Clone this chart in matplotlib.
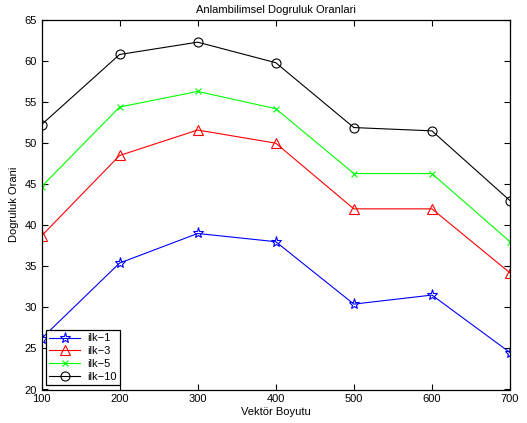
import matplotlib
matplotlib.use("Agg")
import matplotlib.pyplot as plt

x = [100, 200, 300, 400, 500, 600, 700]
ilk1 = [26.2, 35.4, 39.0, 38.0, 30.4, 31.5, 24.5]
ilk3 = [38.7, 48.5, 51.6, 50.0, 42.0, 42.0, 34.2]
ilk5 = [44.7, 54.4, 56.3, 54.2, 46.3, 46.3, 38.0]
ilk10 = [52.25, 60.8, 62.3, 59.8, 51.9, 51.5, 43.0]
labels = ["ilk\u22121", "ilk\u22123", "ilk\u22125", "ilk\u221210"]

plt.rcParams['font.family'] = ['Liberation Sans', 'DejaVu Sans']
plt.rcParams['font.size'] = 8

fig = plt.figure(figsize=(5.27, 4.23), dpi=100)
ax = fig.add_axes([41.5/527, 1 - 389.5/423, (510 - 41.5)/527, (389.5 - 20)/423])

lw = 0.8
ax.plot(x, ilk1, color='blue', lw=lw, marker='*', ms=8, mfc='none', mew=0.8, label=labels[0])
ax.plot(x, ilk3, color='red', lw=lw, marker='^', ms=7.5, mfc='none', mew=0.8, label=labels[1])
ax.plot(x, ilk5, color='#00ff00', lw=lw, marker='x', ms=5, mew=0.8, label=labels[2])
ax.plot(x, ilk10, color='black', lw=lw, marker='o', ms=6.5, mfc='none', mew=0.8, label=labels[3])

ax.set_xlim(100, 700)
ax.set_ylim(20, 65)
ax.set_xticks(x)
ax.set_yticks(range(20, 66, 5))
ax.tick_params(direction='in', top=True, right=True, length=4, width=0.8, labelsize=8)
for s in ax.spines.values():
    s.set_linewidth(0.9)

ax.set_title("Anlambilimsel Dogruluk Oranlari", fontsize=8, pad=5)
ax.set_xlabel("Vektör Boyutu", fontsize=8, labelpad=2)
ax.set_ylabel("Dogruluk Orani", fontsize=8, labelpad=4)

leg = ax.legend(loc='lower left', fontsize=8, fancybox=False, edgecolor='black',
                framealpha=1, borderaxespad=0.4, handlelength=2.8, labelspacing=0.25,
                borderpad=0.3, handletextpad=0.6)
leg.get_frame().set_linewidth(0.9)

fig.savefig("out.png", dpi=100)
